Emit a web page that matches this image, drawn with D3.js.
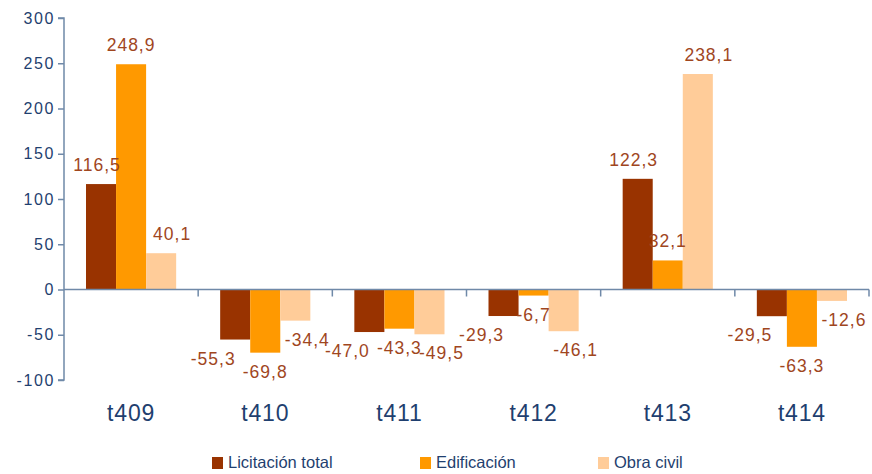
<!DOCTYPE html>
<html>
<head>
<meta charset="utf-8">
<script src="https://cdn.jsdelivr.net/npm/d3@7"></script>
<style>
body { margin: 0; background: #fff; }
text { font-family: "Liberation Sans", Arial, sans-serif; }
</style>
</head>
<body>
<div id="vizContainer"></div>
<script>
// chart data
var categories = ['t409', 't410', 't411', 't412', 't413', 't414'];
var seriesNames = ['Licitación total', 'Edificación', 'Obra civil'];
var licitacion = [116.5, -55.3, -47.0, -29.3, 122.3, -29.5];
var edificacion = [248.9, -69.8, -43.3, -6.7, 32.1, -63.3];
var obraCivil = [40.1, -34.4, -49.5, -46.1, 238.1, -12.6];
var yTicks = [-100, -50, 0, 50, 100, 150, 200, 250, 300];

var colors = ['#993300', '#FF9900', '#FFCC99'];
var series = [licitacion, edificacion, obraCivil];
// label nudges like the original (pos / neg values)
var labelShift = [[-4, -22], [0, 0], [11, 12]];

var width = 872, height = 474;
var plotLeft = 64, plotRight = 869, plotTop = 18, plotBottom = 380;

var svg = d3.select('#vizContainer').append('svg')
    .attr('width', width)
    .attr('height', height)
    .attr('viewBox', '0 0 ' + width + ' ' + height);

var y = d3.scaleLinear().domain([-100, 300]).range([plotBottom, plotTop]);
var x = d3.scaleBand().domain(categories).range([plotLeft, plotRight]);
var xs = d3.scaleBand().domain(d3.range(3)).range([22, x.bandwidth() - 22]).padding(0);

// y axis
var yAxis = svg.append('g')
    .attr('transform', 'translate(' + plotLeft + ',0)')
    .call(d3.axisLeft(y).tickValues(yTicks).tickSize(6).tickPadding(3)
        .tickFormat(function(d){ return d; }));
yAxis.selectAll('path, line').attr('stroke', '#6F89A8').attr('stroke-width', 1.5);
yAxis.select('.domain').attr('d', 'M-6,' + y(-100) + 'H0V' + y(300) + 'H-6');
yAxis.selectAll('text').attr('fill', '#1F3F6F')
    .style('font-size', '16px').style('letter-spacing', '1.6px');

// bars
var groups = svg.append('g').selectAll('g')
    .data(categories)
    .join('g')
    .attr('transform', function(d){ return 'translate(' + x(d) + ',0)'; });

series.forEach(function(vals, s){
    groups.append('rect')
        .attr('x', xs(s))
        .attr('width', xs.bandwidth())
        .attr('y', function(d, i){ return y(Math.max(0, vals[i])); })
        .attr('height', function(d, i){ return Math.abs(y(vals[i]) - y(0)); })
        .attr('fill', colors[s]);
});

// x axis
var xAxis = svg.append('g')
    .attr('transform', 'translate(0,' + y(0) + ')');
xAxis.append('line')
    .attr('x1', plotLeft).attr('x2', plotRight)
    .attr('stroke', '#6F89A8').attr('stroke-width', 1.5);
xAxis.selectAll('.tk')
    .data(categories)
    .join('line')
    .attr('class', 'tk')
    .attr('x1', function(d){ return x(d) + x.step(); })
    .attr('x2', function(d){ return x(d) + x.step(); })
    .attr('y1', 0).attr('y2', 7)
    .attr('stroke', '#6F89A8').attr('stroke-width', 1.5);

svg.append('g').selectAll('text')
    .data(categories)
    .join('text')
    .attr('x', function(d){ return x(d) + x.bandwidth() / 2; })
    .attr('y', 421)
    .attr('text-anchor', 'middle')
    .attr('fill', '#1F3F6F')
    .style('font-size', '23px')
    .style('letter-spacing', '0.8px')
    .text(function(d){ return d; });

// value labels
series.forEach(function(vals, s){
    groups.append('text')
        .attr('x', function(d, i){
            return xs(s) + xs.bandwidth() / 2 + labelShift[s][vals[i] >= 0 ? 0 : 1];
        })
        .attr('y', function(d, i){
            return vals[i] >= 0 ? y(vals[i]) - 13 : y(vals[i]) + 25;
        })
        .attr('text-anchor', 'middle')
        .attr('fill', '#A0461E')
        .style('font-size', '17.5px')
        .style('letter-spacing', '1px')
        .text(function(d, i){ return vals[i].toFixed(1).replace('.', ','); });
});

// legend
var legendX = [212, 420, 598];
var legend = svg.append('g').selectAll('g')
    .data(seriesNames)
    .join('g')
    .attr('transform', function(d, i){ return 'translate(' + legendX[i] + ',457)'; });
legend.append('rect')
    .attr('width', 11).attr('height', 12)
    .attr('fill', function(d, i){ return colors[i]; });
legend.append('text')
    .attr('x', 16).attr('y', 11)
    .attr('fill', '#1F3F6F')
    .style('font-size', '16.5px')
    .text(function(d){ return d; });
</script>
</body>
</html>
